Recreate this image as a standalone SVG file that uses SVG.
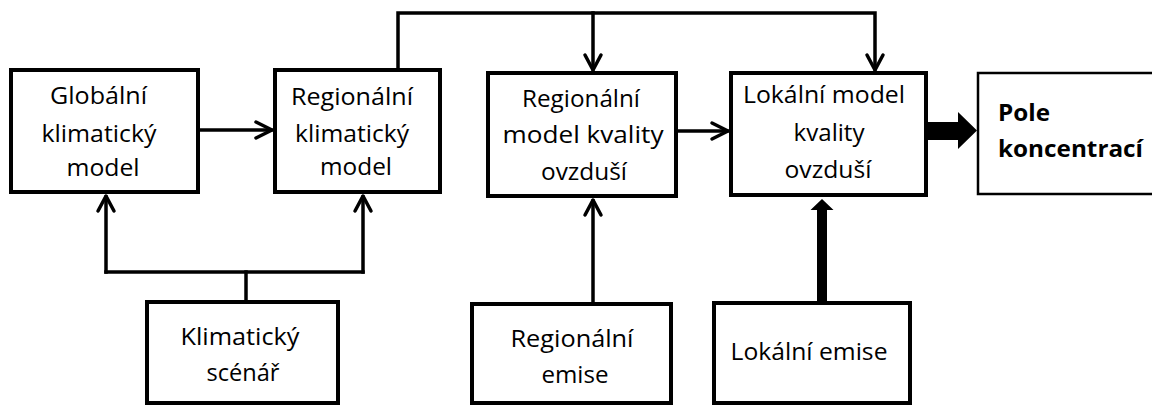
<svg xmlns="http://www.w3.org/2000/svg" width="1152" height="405" viewBox="0 0 1152 405">
<style>
.box{fill:#fff;stroke:#000;stroke-width:4}
.thin{fill:#fff;stroke:#000;stroke-width:2.5}
.t{font-family:"Open Sans","Noto Sans","DejaVu Sans",sans-serif;font-size:24px;fill:#000;text-anchor:middle}
.b{font-weight:bold;text-anchor:start}
.ln{fill:none;stroke:#000;stroke-width:3.5;stroke-linecap:square}
.hd{fill:none;stroke:#000;stroke-width:3.5;stroke-linecap:round;stroke-linejoin:round}
</style>
<rect width="1152" height="405" fill="#fff"/>
<g id="connectors">
<path class="ln" d="M398 68V13H875V69"/>
<path class="ln" d="M593 13V69"/>
<path class="hd" d="M585 55L593 70L601 55"/>
<path class="hd" d="M867 55L875 70L883 55"/>
<path class="ln" d="M200 130H271"/>
<path class="hd" d="M256 122L272 130L256 138"/>
<path class="ln" d="M678 131H727"/>
<path class="hd" d="M712 123L728 131L712 139"/>
<path class="ln" d="M246 300V272"/>
<path class="ln" d="M106 272H363"/>
<path class="ln" d="M106 272V197"/>
<path class="ln" d="M363 272V197"/>
<path class="hd" d="M98 211L106 196L114 211"/>
<path class="hd" d="M355 211L363 196L371 211"/>
<path class="ln" d="M593 302V201"/>
<path class="hd" d="M585 215L593 200L601 215"/>
<path d="M817 302V210H810.5L822 199L833.5 210H827V302Z" fill="#000"/>
<path d="M928 122H958V112L977 130.5L958 149V140H928Z" fill="#000"/>
</g>
<g id="n-globalni">
<rect class="box" x="11" y="70" width="187" height="122"/>
<text class="t"><tspan x="98.5" y="104" textLength="97" lengthAdjust="spacingAndGlyphs">Globální</tspan><tspan x="99" y="142" textLength="115" lengthAdjust="spacingAndGlyphs">klimatický</tspan><tspan x="103" y="176" textLength="73" lengthAdjust="spacingAndGlyphs">model</tspan></text>
</g>
<g id="n-regionalni-klim">
<rect class="box" x="275" y="70" width="165" height="122"/>
<text class="t"><tspan x="352" y="105" textLength="122" lengthAdjust="spacingAndGlyphs">Regionální</tspan><tspan x="352" y="142" textLength="114" lengthAdjust="spacingAndGlyphs">klimatický</tspan><tspan x="356" y="175" textLength="72" lengthAdjust="spacingAndGlyphs">model</tspan></text>
</g>
<g id="n-regionalni-kvalita">
<rect class="box" x="488" y="73" width="188" height="123"/>
<text class="t"><tspan x="581" y="107" textLength="118" lengthAdjust="spacingAndGlyphs">Regionální</tspan><tspan x="583" y="143" textLength="161" lengthAdjust="spacingAndGlyphs">model kvality</tspan><tspan x="584" y="180" textLength="86" lengthAdjust="spacingAndGlyphs">ovzduší</tspan></text>
</g>
<g id="n-lokalni-kvalita">
<rect class="box" x="731" y="73" width="195" height="122"/>
<text class="t"><tspan x="824" y="103" textLength="162" lengthAdjust="spacingAndGlyphs">Lokální model</tspan><tspan x="829" y="141" textLength="71" lengthAdjust="spacingAndGlyphs">kvality</tspan><tspan x="828" y="178" textLength="87" lengthAdjust="spacingAndGlyphs">ovzduší</tspan></text>
</g>
<g id="n-pole">
<rect class="thin" x="978" y="73" width="200" height="121"/>
<text class="t b"><tspan x="998" y="121" textLength="52" lengthAdjust="spacingAndGlyphs">Pole</tspan><tspan x="998" y="157" textLength="145" lengthAdjust="spacingAndGlyphs">koncentrací</tspan></text>
</g>
<g id="n-scenar">
<rect class="box" x="147" y="302" width="191" height="101"/>
<text class="t"><tspan x="240" y="345" textLength="119" lengthAdjust="spacingAndGlyphs">Klimatický</tspan><tspan x="243" y="381" textLength="73" lengthAdjust="spacingAndGlyphs">scénář</tspan></text>
</g>
<g id="n-regionalni-emise">
<rect class="box" x="472" y="304" width="199" height="99"/>
<text class="t"><tspan x="572" y="347" textLength="123" lengthAdjust="spacingAndGlyphs">Regionální</tspan><tspan x="575" y="383" textLength="67" lengthAdjust="spacingAndGlyphs">emise</tspan></text>
</g>
<g id="n-lokalni-emise">
<rect class="box" x="714" y="303" width="196" height="100"/>
<text class="t"><tspan x="809" y="360" textLength="157" lengthAdjust="spacingAndGlyphs">Lokální emise</tspan></text>
</g>
</svg>
